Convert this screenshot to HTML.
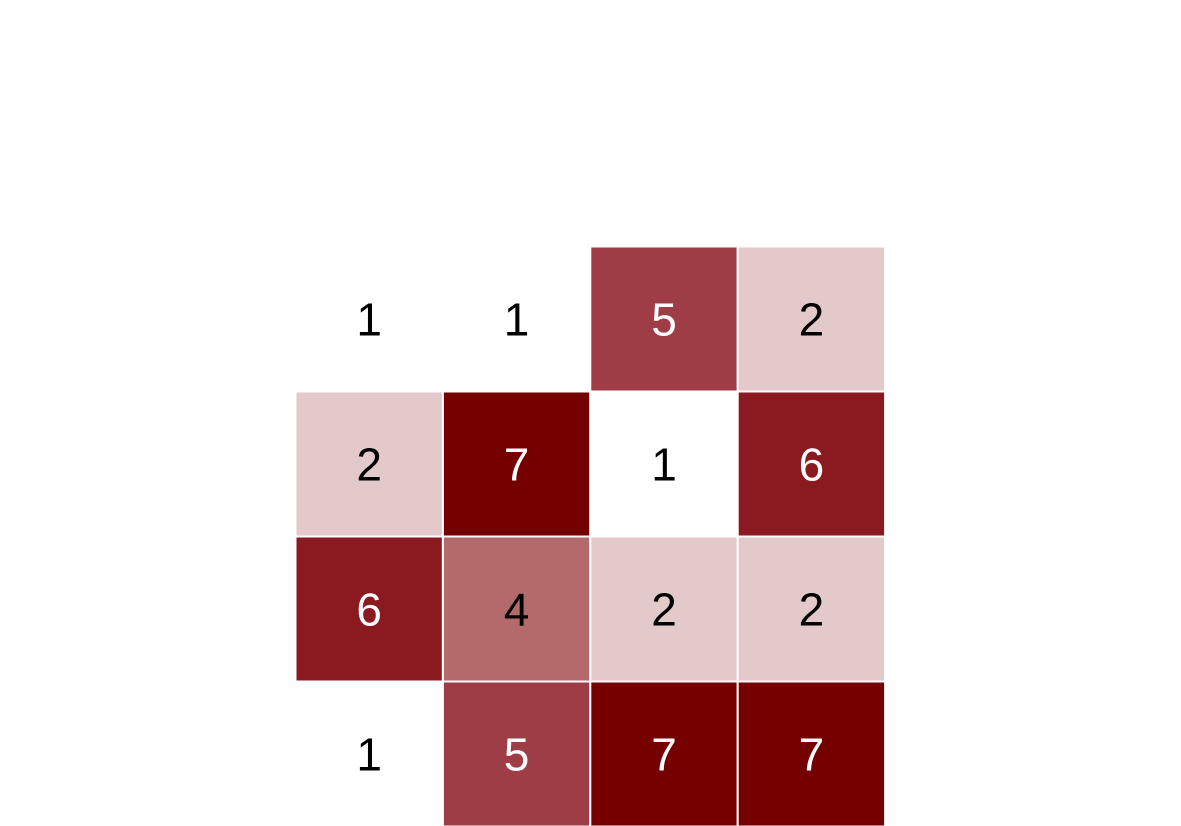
<!DOCTYPE html>
<html>
<head>
<meta charset="utf-8">
<style>
html,body{margin:0;padding:0;background:#fff;}
svg{display:block;}
text{font-family:"Liberation Sans",Arial,sans-serif;}
</style>
</head>
<body>
<svg id="chart" width="1181" height="826" viewBox="0 0 1181 826" xmlns="http://www.w3.org/2000/svg">
<g id="cells"></g>
</svg>
<script>
const rowLabels = ["r1","r2","r3","r4"];
const colLabels = ["c1","c2","c3","c4"];
const values = [
  [1,1,5,2],
  [2,7,1,6],
  [6,4,2,2],
  [1,5,7,7]
];
const colorMap = {1:"#ffffff",2:"#e3c9c9",3:"#cc9a9a",4:"#b46a6a",5:"#9e3d45",6:"#8a1a20",7:"#750000"};

const x0 = 295.5, cw = 147.4, y0 = 246.5, ch = 145;
function xScale(i){ return x0 + i*cw; }
function yScale(j){ return y0 + j*ch; }

const g = document.getElementById('cells');
const NS = "http://www.w3.org/2000/svg";
values.forEach((row, j) => {
  row.forEach((v, i) => {
    const r = document.createElementNS(NS, 'rect');
    
    
    r.setAttribute('x', xScale(i));
    r.setAttribute('y', yScale(j));
    r.setAttribute('width', cw);
    r.setAttribute('height', ch);
    r.setAttribute('fill', colorMap[v] || "#ffffff");
    r.setAttribute('stroke', '#ffffff');
    r.setAttribute('stroke-width', '2');
    g.appendChild(r);
    const t = document.createElementNS(NS, 'text');
    
    
    t.setAttribute('x', xScale(i) + cw/2);
    t.setAttribute('y', yScale(j) + ch/2 + 16.5);
    t.setAttribute('text-anchor', 'middle');
    t.setAttribute('font-size', '46');
    t.setAttribute('fill', v >= 5 ? '#ffffff' : '#000000');
    t.textContent = v;
    g.appendChild(t);
  });
});
</script>
</body>
</html>
